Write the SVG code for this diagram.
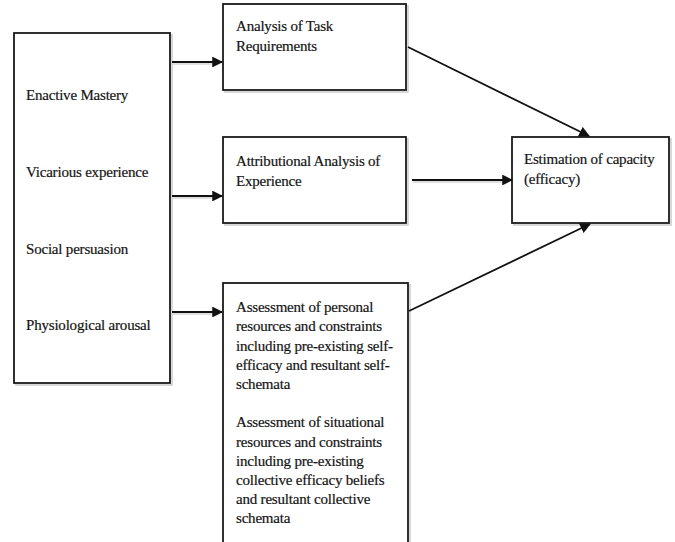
<svg xmlns="http://www.w3.org/2000/svg" width="675" height="542" viewBox="0 0 675 542">
  <style>
    .box { fill: #ffffff; stroke: #1a1a1a; stroke-width: 1.8; }
    .shadow { fill: none; stroke: #cfcfcf; stroke-width: 1.6; }
    .lbl { font-family: "Liberation Serif", "DejaVu Serif", "Times New Roman", serif; font-size: 15px; letter-spacing: -0.2px; fill: #111111; stroke: #222222; stroke-width: 0.2; }
    .edge { stroke: #111111; stroke-width: 1.8; fill: none; marker-end: url(#head); }
    .edge-shadow { stroke: #d4d4d4; stroke-width: 1.6; fill: none; }
  </style>
  <defs>
    <marker id="head" viewBox="0 0 10 10" refX="9" refY="5" markerWidth="6" markerHeight="6" markerUnits="strokeWidth" orient="auto">
      <path d="M0,0 L10,5 L0,10 Z" fill="#111111"/>
    </marker>
  </defs>
  <rect width="675" height="542" fill="#ffffff"/>

  <!-- Sources of efficacy information -->
  <g id="sources">
    <rect class="shadow" x="16" y="35" width="156" height="350"/>
    <rect class="box" x="14" y="33" width="156" height="350"/>
    <text class="lbl" x="26" y="100">Enactive Mastery</text>
    <text class="lbl" x="26" y="177">Vicarious experience</text>
    <text class="lbl" x="26" y="254">Social persuasion</text>
    <text class="lbl" x="26" y="330">Physiological arousal</text>
  </g>

  <!-- Analysis of task requirements -->
  <g id="task">
    <rect class="shadow" x="225" y="6" width="183" height="86"/>
    <rect class="box" x="223" y="4" width="183" height="86"/>
    <text class="lbl" x="236" y="31">Analysis of Task</text>
    <text class="lbl" x="236" y="51">Requirements</text>
  </g>

  <!-- Attributional analysis -->
  <g id="attribution">
    <rect class="shadow" x="225" y="139" width="183" height="86"/>
    <rect class="box" x="223" y="137" width="183" height="86"/>
    <text class="lbl" x="236" y="166">Attributional Analysis of</text>
    <text class="lbl" x="236" y="186">Experience</text>
  </g>

  <!-- Assessment of personal and situational resources -->
  <g id="assessment">
    <rect class="shadow" x="225" y="285" width="185" height="270"/>
    <rect class="box" x="223" y="283" width="185" height="270"/>
    <text class="lbl" x="236" y="312">Assessment of personal</text>
    <text class="lbl" x="236" y="331">resources and constraints</text>
    <text class="lbl" x="236" y="351">including pre-existing self-</text>
    <text class="lbl" x="236" y="370">efficacy and resultant self-</text>
    <text class="lbl" x="236" y="389">schemata</text>
    <text class="lbl" x="236" y="427">Assessment of situational</text>
    <text class="lbl" x="236" y="447">resources and constraints</text>
    <text class="lbl" x="236" y="466">including pre-existing</text>
    <text class="lbl" x="236" y="485">collective efficacy beliefs</text>
    <text class="lbl" x="236" y="504">and resultant collective</text>
    <text class="lbl" x="236" y="523">schemata</text>
  </g>

  <!-- Estimation of capacity -->
  <g id="estimation">
    <rect class="shadow" x="514" y="139" width="157" height="86"/>
    <rect class="box" x="512" y="137" width="157" height="86"/>
    <text class="lbl" x="524" y="164">Estimation of capacity</text>
    <text class="lbl" x="524" y="184">(efficacy)</text>
  </g>

  <!-- Connectors -->
  <g id="connectors">
    <line class="edge-shadow" x1="173" y1="64" x2="218" y2="64"/>
    <line class="edge-shadow" x1="173" y1="198" x2="218" y2="198"/>
    <line class="edge-shadow" x1="173" y1="314" x2="218" y2="314"/>
    <line class="edge-shadow" x1="413" y1="182" x2="507" y2="182"/>
    <line class="edge" x1="172" y1="62" x2="222" y2="62"/>
    <line class="edge" x1="172" y1="196" x2="222" y2="196"/>
    <line class="edge" x1="172" y1="312" x2="222" y2="312"/>
    <line class="edge" x1="408" y1="47" x2="589" y2="136"/>
    <line class="edge" x1="412" y1="180" x2="512" y2="180"/>
    <line class="edge" x1="409" y1="311" x2="590" y2="224"/>
  </g>
</svg>
